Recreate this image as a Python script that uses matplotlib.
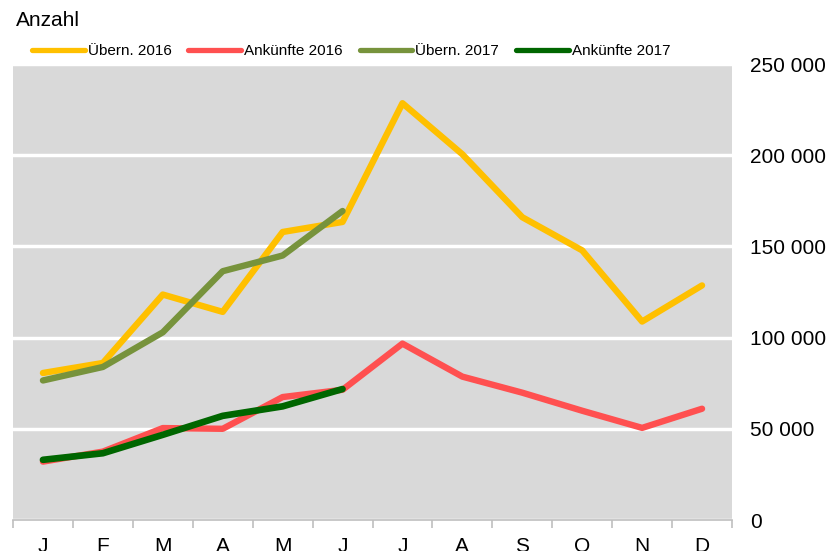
import matplotlib
matplotlib.use("Agg")
import matplotlib.pyplot as plt
import numpy as np

plt.rcParams['font.family'] = ['Liberation Sans', 'DejaVu Sans']

months = ["J", "F", "M", "A", "M", "J", "J", "A", "S", "O", "N", "D"]
uebern_2016 = [80600, 86100, 123600, 114100, 157900, 163400, 228500, 200500, 166000, 147800, 108800, 128600]
ankuenfte_2016 = [32000, 37500, 50400, 50000, 67400, 71400, 96700, 78600, 69800, 59900, 50500, 61000]
uebern_2017 = [76500, 83900, 102900, 136400, 145000, 169400]
ankuenfte_2017 = [33000, 36600, 46700, 57100, 62300, 71800]
yticks = [0, 50000, 100000, 150000, 200000, 250000]
ytick_labels = ["0", "50 000", "100 000", "150 000", "200 000", "250 000"]

W, H = 838, 551
fig = plt.figure(figsize=(W / 100, H / 100), dpi=100)
left, right, top, bottom = 13, 732, 64, 520
ax = fig.add_axes([left / W, 1 - bottom / H, (right - left) / W, (bottom - top) / H])
ax.set_facecolor("#d9d9d9")

x = np.arange(len(months))
ax.plot(x, uebern_2016, color="#FFC000", lw=4.6, solid_capstyle="round", label="Übern. 2016", zorder=3)
ax.plot(x, ankuenfte_2016, color="#FF5050", lw=4.6, solid_capstyle="round", label="Ankünfte 2016", zorder=3)
ax.plot(x[:len(uebern_2017)], uebern_2017, color="#77933C", lw=4.6, solid_capstyle="round", label="Übern. 2017", zorder=4)
ax.plot(x[:len(ankuenfte_2017)], ankuenfte_2017, color="#006600", lw=4.8, solid_capstyle="round", label="Ankünfte 2017", zorder=5)

ax.set_xlim(-0.5, len(months) - 0.5)
ax.set_ylim(0, 250000)
ax.set_yticks(yticks)
ax.set_yticklabels(ytick_labels)
ax.yaxis.tick_right()
ax.tick_params(axis="y", length=0, labelsize=15, pad=13)
ax.yaxis.grid(True, color="white", lw=2.5)
ax.set_axisbelow(True)

ax.set_xticks(x)
ax.set_xticklabels(months)
ax.set_xticks(np.arange(-0.5, len(months)), minor=True)
ax.tick_params(axis="x", which="major", length=0, labelsize=15, pad=12)
ax.tick_params(axis="x", which="minor", length=6, color="#bfbfbf", width=1.2)

for s in ["top", "left", "right"]:
    ax.spines[s].set_visible(False)
ax.spines["bottom"].set_color("#bfbfbf")
ax.spines["bottom"].set_linewidth(1.2)

fig.text(16 / W, 1 - 20 / H, "Anzahl", fontsize=15, va="center", ha="left")

leg = fig.legend(loc="center left", bbox_to_anchor=(32 / W, 1 - 51 / H), ncol=4, frameon=False,
                 fontsize=11, handlelength=3.45, handletextpad=0.2, columnspacing=1.1,
                 borderpad=0, borderaxespad=0)
for line in leg.get_lines():
    line.set_linewidth(3.8)

fig.savefig("out.png", dpi=100)
